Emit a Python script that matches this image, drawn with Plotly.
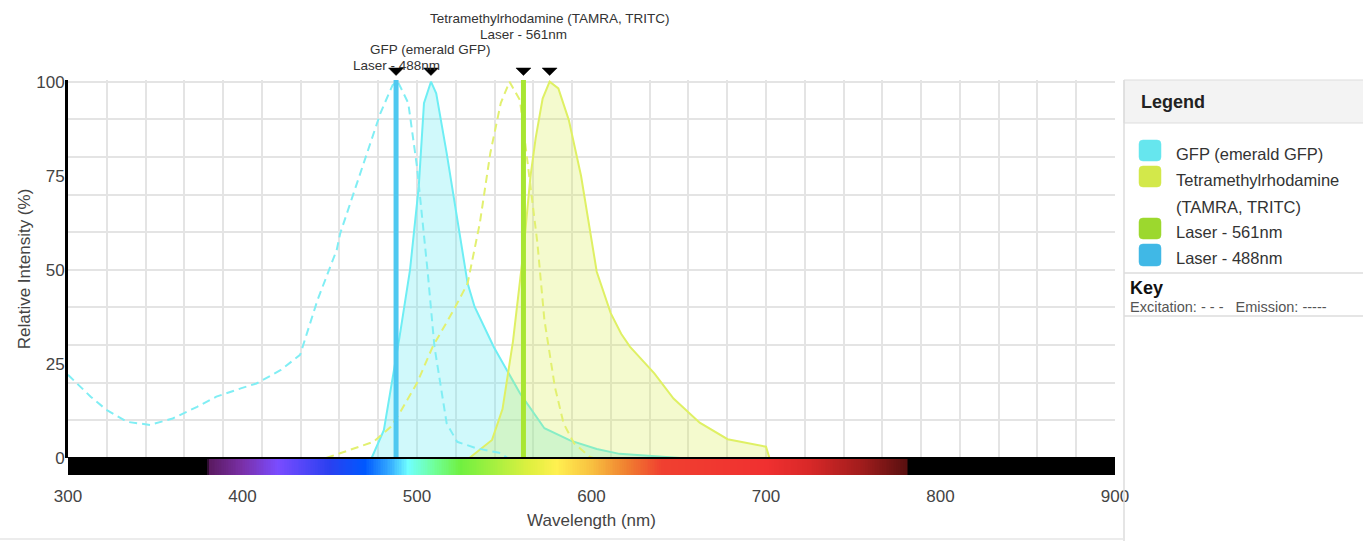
import numpy as np
import plotly.graph_objects as go

# ---------------- data ----------------
GFP_EX_NM = [300, 313, 322, 334, 347, 360, 374, 385, 399, 408, 422, 433, 443, 454, 456, 469, 479, 486, 489, 495, 500, 506, 510, 517, 523, 534, 547, 552]
GFP_EX_VAL = [22.1, 16.3, 12.8, 9.6, 8.8, 10.5, 13.6, 16.3, 18.5, 19.8, 23.4, 27.4, 42.0, 55.3, 59.7, 77.4, 91.6, 99.1, 100, 94.3, 77.4, 50.0, 29.6, 9.2, 4.3, 2.6, 1.4, 0]

GFP_EM_NM = [474, 481, 490, 496, 501, 504, 508, 511, 517, 523, 529, 533, 544, 559, 573, 588, 603, 616, 628, 651]
GFP_EM_VAL = [0, 7.4, 32.2, 50.0, 72.1, 94.3, 100, 96.9, 81.0, 63.2, 46.4, 40.2, 29.5, 17.2, 7.9, 4.6, 2.4, 1.1, 0.7, 0]

TAMRA_EX_NM = [448, 464, 475, 485, 490, 500, 509, 521, 529, 536, 542, 548, 553, 559, 564, 569, 573, 579, 584, 590, 599, 601]
TAMRA_EX_VAL = [0, 2.6, 4.3, 8.3, 11.9, 19.9, 29.6, 39.3, 46.4, 62.4, 81.0, 94.3, 100, 95.1, 76.5, 57.1, 36.7, 18.9, 9.2, 3.9, 0.3, 0]

TAMRA_EM_NM = [530, 543, 549, 555, 561, 565, 568, 572, 576, 581, 587, 594, 603, 611, 617, 622, 636, 647, 662, 678, 700, 702]
TAMRA_EM_VAL = [0, 4.8, 13.0, 31.0, 55.0, 74.8, 85.0, 95.5, 100, 98.2, 89.8, 75.0, 49.5, 38.5, 33.0, 29.6, 22.5, 15.8, 9.4, 5.0, 3.0, 0]

LASER_NM = [488, 561]
LASER_NAMES = ["Laser - 488nm", "Laser - 561nm"]
DYE_NAMES = ["GFP (emerald GFP)", "Tetramethylrhodamine (TAMRA, TRITC)"]

X_TICKS = [300, 400, 500, 600, 700, 800, 900]
Y_TICKS = [0, 25, 50, 75, 100]

LEGEND_LABELS = ["GFP (emerald GFP)", "Tetramethylrhodamine", "(TAMRA, TRITC)", "Laser - 561nm", "Laser - 488nm"]

# visible-spectrum band (colour stops)
SPECTRUM_NM = [300, 379, 381, 400, 420, 450, 470, 485, 495, 510, 525, 545, 565, 580, 600, 620, 640, 700, 725, 755, 780, 782, 900]
SPECTRUM_RGB = ['#000000', '#000000', '#5a1a60', '#7a30a8', '#7a4cff', '#2a40f0', '#0058ff', '#38b0ff',
                '#70ffff', '#70ff98', '#70f040', '#a8f040', '#e0f040', '#fff050', '#f8c040', '#f08030',
                '#f04030', '#f03030', '#d82828', '#a01c1c', '#5a1010', '#000000', '#000000']
SPECTRUM_X = np.arange(300, 901, 1)

# ---------------- styling ----------------
C_GFP = '#6eeef4'
C_TAMRA = '#dff064'
C_L488 = '#4ec8f0'
C_L561 = '#a8e632'
SW_GFP, SW_TAMRA, SW_L561, SW_L488 = '#66e6ee', '#d3e84a', '#9cd82e', '#40b8e6'
FONT = 'Liberation Sans, Arial, Helvetica, sans-serif'

W, H = 1363, 541
ML, MR, MT, MB = 68, 248, 80, 66
PW, PH = W - ML - MR, H - MT - MB
X_RANGE = [300, 900]
Y_TOP = 100.45
BAR_FRAC = 17 / PH


def px(x):
    return (x - ML) / PW


def py(y):
    return (H - MB - y) / PH


fig = go.Figure()

# emission (filled)
fig.add_trace(go.Scatter(x=GFP_EM_NM, y=GFP_EM_VAL, mode='lines', fill='tozeroy',
                         fillcolor='rgba(94,234,240,0.29)', line=dict(color=C_GFP, width=2),
                         hoverinfo='skip'))
fig.add_trace(go.Scatter(x=TAMRA_EM_NM, y=TAMRA_EM_VAL, mode='lines', fill='tozeroy',
                         fillcolor='rgba(212,234,60,0.25)', line=dict(color=C_TAMRA, width=2),
                         hoverinfo='skip'))
# excitation (dashed)
fig.add_trace(go.Scatter(x=GFP_EX_NM, y=GFP_EX_VAL, mode='lines',
                         line=dict(color='#80eef4', width=2, dash='8px,5px'), hoverinfo='skip'))
fig.add_trace(go.Scatter(x=TAMRA_EX_NM, y=TAMRA_EX_VAL, mode='lines',
                         line=dict(color='#e2f070', width=2, dash='8px,5px'), hoverinfo='skip'))
# lasers
for nm, col in zip(LASER_NM, [C_L488, C_L561]):
    fig.add_trace(go.Scatter(x=[nm, nm], y=[0, Y_TOP], mode='lines',
                             line=dict(color=col, width=5), hoverinfo='skip'))

# spectrum band
fig.add_trace(go.Heatmap(x=SPECTRUM_X, y=[0], z=[SPECTRUM_X], xaxis='x', yaxis='y3',
                         zmin=300, zmax=900, showscale=False, hoverinfo='skip',
                         colorscale=[[(n - 300) / 600, c] for n, c in zip(SPECTRUM_NM, SPECTRUM_RGB)]))

# invisible helper trace for grid axes
fig.add_trace(go.Scatter(x=[0], y=[0], xaxis='x2', yaxis='y2', mode='markers',
                         marker=dict(opacity=0), hoverinfo='skip'))

fig.update_layout(
    width=W, height=H, margin=dict(l=ML, r=MR, t=MT, b=MB),
    paper_bgcolor='white', plot_bgcolor='white', showlegend=False,
    font=dict(family=FONT, color='#444'),
    xaxis=dict(range=X_RANGE, tickvals=X_TICKS, showgrid=False, zeroline=False,
               anchor='y3', ticks='outside', ticklen=6, tickcolor='rgba(0,0,0,0)',
               tickfont=dict(size=17, color='#444'),
               title=dict(text='Wavelength (nm)', font=dict(size=17, color='#444'), standoff=8)),
    yaxis=dict(domain=[BAR_FRAC, 1], range=[0, Y_TOP], tickvals=Y_TICKS, showgrid=False,
               zeroline=False, showline=True, linecolor='black', linewidth=3,
               ticklabelstandoff=-3,
               tickfont=dict(size=17, color='#444'),
               title=dict(text='Relative Intensity (%)', font=dict(size=17, color='#444'), standoff=2)),
    xaxis2=dict(overlaying='x', anchor='y', range=[0, 27], dtick=1, showgrid=True,
                gridcolor='#e4e4e4', gridwidth=1.6, showticklabels=False, zeroline=False),
    yaxis2=dict(overlaying='y', anchor='x', range=[0, Y_TOP], dtick=10, showgrid=True,
                gridcolor='#e4e4e4', gridwidth=1.6, showticklabels=False, zeroline=False),
    yaxis3=dict(domain=[0, BAR_FRAC], range=[-0.5, 0.5], visible=False, fixedrange=True),
)
fig.update_layout(xaxis2_layer='below traces', yaxis2_layer='below traces')

# peak / laser markers above the plot
gfp_peak = GFP_EM_NM[int(np.argmax(GFP_EM_VAL))]
tamra_peak = TAMRA_EM_NM[int(np.argmax(TAMRA_EM_VAL))]
marker_x = [LASER_NM[0], gfp_peak, LASER_NM[1], tamra_peak]
half_w = 7.5 * (X_RANGE[1] - X_RANGE[0]) / PW

shapes = []
for mx in marker_x:
    shapes.append(dict(type='path', xref='x', yref='paper',
                       path=f"M {mx-half_w},{py(68)} L {mx+half_w},{py(68)} L {mx},{py(75.5)} Z",
                       fillcolor='black', line=dict(color='black', width=0.5)))
shapes.append(dict(type='line', xref='paper', yref='paper', x0=0, x1=1, y0=BAR_FRAC, y1=BAR_FRAC,
                   line=dict(color='black', width=2)))
# legend panel
shapes.append(dict(type='rect', xref='paper', yref='paper', x0=px(1124), x1=px(1366), y0=py(123), y1=py(80),
                   fillcolor='#f3f3f3', line=dict(color='#dddddd', width=1)))
shapes.append(dict(type='line', xref='paper', yref='paper', x0=px(1124), x1=px(1124), y0=py(80), y1=py(541),
                   line=dict(color='#dddddd', width=1.5)))
for yy in [273, 316]:
    shapes.append(dict(type='line', xref='paper', yref='paper', x0=px(1124), x1=px(1366), y0=py(yy), y1=py(yy),
                       line=dict(color='#dddddd', width=1.5)))
shapes.append(dict(type='line', xref='paper', yref='paper', x0=px(0), x1=px(1124), y0=py(539), y1=py(539),
                   line=dict(color='#e6e6e6', width=1.5)))


def rounded(x0, y0, x1, y1, r=4):
    X0, X1 = px(x0), px(x1)
    Y0, Y1 = py(y0), py(y1)
    rx, ry = r / PW, r / PH
    return (f"M {X0+rx},{Y0} L {X1-rx},{Y0} Q {X1},{Y0} {X1},{Y0-ry} L {X1},{Y1+ry} "
            f"Q {X1},{Y1} {X1-rx},{Y1} L {X0+rx},{Y1} Q {X0},{Y1} {X0},{Y1+ry} L {X0},{Y0-ry} "
            f"Q {X0},{Y0} {X0+rx},{Y0} Z")


for (y0, y1), col in zip([(140, 161), (166, 187), (218, 239), (244, 266)], [SW_GFP, SW_TAMRA, SW_L561, SW_L488]):
    shapes.append(dict(type='path', xref='paper', yref='paper', path=rounded(1139, y0, 1161, y1),
                       fillcolor=col, line=dict(color=col, width=0.5)))
fig.update_layout(shapes=shapes)

ann = []
ann.append(dict(text='<b>Legend</b>', x=px(1139), y=py(102), xref='paper', yref='paper', xanchor='left',
                yanchor='middle', showarrow=False, font=dict(size=18, color='#222')))
for lab, yy in zip(LEGEND_LABELS, [154, 180, 206.5, 231.5, 257.5]):
    ann.append(dict(text=lab, x=px(1174), y=py(yy), xref='paper', yref='paper', xanchor='left',
                    yanchor='middle', showarrow=False, font=dict(size=16.5, color='#333')))
ann.append(dict(text='<b>Key</b>', x=px(1128), y=py(288), xref='paper', yref='paper', xanchor='left',
                yanchor='middle', showarrow=False, font=dict(size=18, color='#111')))
ann.append(dict(text='Excitation: - - -&nbsp;&nbsp;&nbsp;Emission: -----', x=px(1128), y=py(306.5),
                xref='paper', yref='paper', xanchor='left', yanchor='middle', showarrow=False,
                font=dict(size=14.5, color='#555')))
# labels above markers
for txt, xv, shift in [(LASER_NAMES[0], LASER_NM[0], 15), (DYE_NAMES[0], gfp_peak, 31),
                       (LASER_NAMES[1], LASER_NM[1], 46), (DYE_NAMES[1], tamra_peak, 62)]:
    ann.append(dict(text=txt, x=xv, y=1, xref='x', yref='paper', yshift=shift, xanchor='center',
                    yanchor='middle', showarrow=False, borderpad=0, font=dict(size=13.5, color='#333')))
fig.update_layout(annotations=ann)

fig.write_html('out.html', config={'displayModeBar': False},
               post_script="document.body.style.margin='0';document.body.style.overflow='hidden';")
